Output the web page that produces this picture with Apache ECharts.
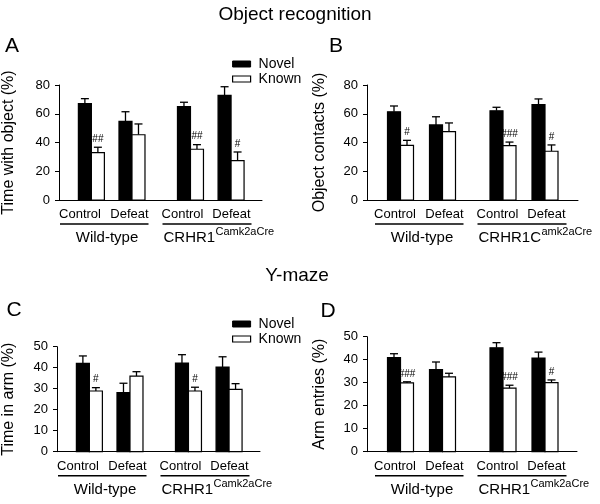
<!DOCTYPE html>
<html>
<head>
<meta charset="utf-8">
<script src="https://cdn.jsdelivr.net/npm/echarts@6/dist/echarts.min.js"></script>
<style>
html,body{margin:0;padding:0;background:#fff;}
#chart{width:600px;height:504px;}
</style>
</head>
<body>
<div id="chart"></div>
<script>
// ---- data ----
const conditions = ['Control', 'Defeat', 'Control', 'Defeat'];
const genotypeWT = 'Wild-type';
const seriesNames = ['Novel', 'Known'];

// Panel A: Time with object (%)
const aNovel = [67.0, 54.7, 64.9, 72.8];
const aNovelErr = [3.5, 6.7, 3.1, 6.0];
const aKnown = [32.9, 45.4, 35.3, 27.4];
const aKnownErr = [3.8, 7.5, 3.2, 6.0];
const aMarks = ['##', '', '##', '#'];

// Panel B: Object contacts (%)
const bNovel = [61.4, 52.2, 62.1, 66.3];
const bNovelErr = [4.0, 5.7, 2.4, 4.0];
const bKnown = [38.0, 47.5, 37.8, 33.9];
const bKnownErr = [3.5, 6.1, 2.5, 4.4];
const bMarks = ['#', '', '###', '#'];

// Panel C: Time in arm (%)
const cNovel = [42.1, 28.1, 42.2, 40.3];
const cNovelErr = [3.5, 4.5, 4.0, 4.9];
const cKnown = [28.9, 36.0, 28.9, 29.7];
const cKnownErr = [1.6, 2.1, 1.8, 2.7];
const cMarks = ['#', '', '#', ''];

// Panel D: Arm entries (%)
const dNovel = [40.9, 35.7, 45.2, 40.7];
const dNovelErr = [1.7, 3.3, 2.2, 2.6];
const dKnown = [29.9, 32.5, 27.6, 30.0];
const dKnownErr = [0.5, 1.6, 1.3, 1.2];
const dMarks = ['###', '', '###', '#'];

const yTicksObj = [0, 20, 40, 60, 80];
const yTicksMaze = [0, 10, 20, 30, 40, 50];

// ---- layout ----
const FONT = 'Liberation Sans, Arial, Helvetica, sans-serif';
const slotPos = [33.5, 75.5, 136, 178];      // pair centres along x (px from axis start)
const labelPos = [28, 77.5, 130.5, 179.5];
const panels = [
  {letter:'A', left:52, top:85, width:210, height:115, yName:'Time with object (%)', nameGap:42,
   ticks:yTicksObj, novel:aNovel, novelErr:aNovelErr, known:aKnown, knownErr:aKnownErr, marks:aMarks,
   geno2:'CRHR1', sup:'Camk2aCre', letterX:12, letterY:46},
  {letter:'B', left:367, top:85, width:211, height:115, yName:'Object contacts (%)', nameGap:39,
   ticks:yTicksObj, novel:bNovel, novelErr:bNovelErr, known:bKnown, knownErr:bKnownErr, marks:bMarks,
   geno2:'CRHR1C', sup:'amk2aCre', letterX:336, letterY:46},
  {letter:'C', left:50, top:346.7, width:210, height:105, yName:'Time in arm (%)', nameGap:40,
   ticks:yTicksMaze, novel:cNovel, novelErr:cNovelErr, known:cKnown, knownErr:cKnownErr, marks:cMarks,
   geno2:'CRHR1', sup:'Camk2aCre', letterX:14, letterY:310},
  {letter:'D', left:367, top:336.7, width:210, height:115, yName:'Arm entries (%)', nameGap:39,
   ticks:yTicksMaze, novel:dNovel, novelErr:dNovelErr, known:dKnown, knownErr:dKnownErr, marks:dMarks,
   geno2:'CRHR1', sup:'Camk2aCre', letterX:328, letterY:311}
];

function makeRender(sign, fill, marks) {
  return function (params, api) {
    const i = params.dataIndex;
    const x = api.value(0), v = api.value(1), e = api.value(2);
    const base = api.coord([x, 0]);
    const top = api.coord([x, v]);
    const et = api.coord([x, v + e]);
    const bw = 13;
    const cx = base[0] + sign * bw / 2;
    const children = [
      {type:'line', shape:{x1:cx, y1:top[1], x2:cx, y2:et[1]}, style:{stroke:'#000', lineWidth:1.3}},
      {type:'line', shape:{x1:cx - 4, y1:et[1], x2:cx + 4, y2:et[1]}, style:{stroke:'#000', lineWidth:1.3}},
      {type:'rect', shape:{x:cx - bw / 2, y:top[1], width:bw, height:base[1] - top[1]},
       style:{fill:fill, stroke:'#000', lineWidth:1.2}}
    ];
    if (marks && marks[i]) {
      children.push({type:'text', style:{text:marks[i], x:cx, y:et[1] - 3, align:'center',
        verticalAlign:'bottom', fontSize:10, fontFamily:FONT, fill:'#000'}});
    }
    return {type:'group', children:children};
  };
}

const grid = [], xAxis = [], yAxis = [], series = [], graphic = [];
panels.forEach(function (p, k) {
  grid.push({left:p.left, top:p.top, width:p.width, height:p.height});
  xAxis.push({type:'value', gridIndex:k, min:0, max:p.width,
    axisLine:{show:true, lineStyle:{color:'#000', width:1}}, axisTick:{show:false},
    axisLabel:{show:false}, splitLine:{show:false}});
  const tk = p.ticks;
  yAxis.push({type:'value', gridIndex:k, min:tk[0], max:tk[tk.length - 1], interval:tk[1] - tk[0],
    name:p.yName, nameLocation:'middle', nameGap:p.nameGap,
    nameTextStyle:{fontSize:16, color:'#000', fontFamily:FONT},
    axisLine:{show:true, lineStyle:{color:'#000', width:1}},
    axisTick:{show:true, length:4, lineStyle:{color:'#000'}},
    axisLabel:{fontSize:13, color:'#000', fontFamily:FONT, margin:9},
    splitLine:{show:false}});
  series.push({type:'custom', name:'Novel', xAxisIndex:k, yAxisIndex:k,
    itemStyle:{color:'#000'},
    renderItem:makeRender(-1, '#000', null),
    data:p.novel.map(function (v, i) { return [slotPos[i], v, p.novelErr[i]]; })});
  series.push({type:'custom', name:'Known', xAxisIndex:k, yAxisIndex:k,
    itemStyle:{color:'#fff', borderColor:'#000', borderWidth:1},
    renderItem:makeRender(1, '#fff', p.marks),
    data:p.known.map(function (v, i) { return [slotPos[i], v, p.knownErr[i]]; })});

  const bottom = p.top + p.height;
  // condition labels
  conditions.forEach(function (c, i) {
    graphic.push({type:'text', left:null, x:p.left + labelPos[i], y:bottom + 14.5,
      style:{text:c, fontSize:13, fontFamily:FONT, fill:'#000', align:'center', verticalAlign:'middle'}});
  });
  // group underlines
  graphic.push({type:'line', shape:{x1:p.left + 8, y1:bottom + 24, x2:p.left + 96.5, y2:bottom + 24},
    style:{stroke:'#000', lineWidth:1.5}});
  graphic.push({type:'line', shape:{x1:p.left + 110.5, y1:bottom + 24, x2:p.left + 199.5, y2:bottom + 24},
    style:{stroke:'#000', lineWidth:1.5}});
  // genotype labels
  graphic.push({type:'text', x:p.left + 55, y:bottom + 38,
    style:{text:genotypeWT, fontSize:15, fontFamily:FONT, fill:'#000', align:'center', verticalAlign:'middle'}});
  graphic.push({type:'text', x:p.left + 111.5, y:bottom + 38,
    style:{text:p.geno2, fontSize:15, fontFamily:FONT, fill:'#000', align:'left', verticalAlign:'middle'}});
  const g2w = p.geno2 === 'CRHR1' ? 52 : 63;
  graphic.push({type:'text', x:p.left + 111.5 + g2w, y:bottom + 32,
    style:{text:p.sup, fontSize:11, fontFamily:FONT, fill:'#000', align:'left', verticalAlign:'middle'}});
  // panel letters
  graphic.push({type:'text', x:p.letterX, y:p.letterY,
    style:{text:p.letter, fontSize:21, fontFamily:FONT, fill:'#000', align:'center', verticalAlign:'middle'}});
});

graphic.push({type:'text', x:295, y:15,
  style:{text:'Object recognition', fontSize:19, fontFamily:FONT, fill:'#000', align:'center', verticalAlign:'middle'}});
graphic.push({type:'text', x:297, y:276,
  style:{text:'Y-maze', fontSize:19, fontFamily:FONT, fill:'#000', align:'center', verticalAlign:'middle'}});

const legendData = [
  {name:seriesNames[0], icon:'rect', itemStyle:{color:'#000', borderColor:'#000', borderWidth:1}},
  {name:seriesNames[1], icon:'rect', itemStyle:{color:'#fff', borderColor:'#000', borderWidth:1.2}}
];
function makeLegend(top) {
  return {orient:'vertical', left:227, top:top, itemWidth:18, itemHeight:6, itemGap:1,
    selectedMode:false, data:legendData,
    textStyle:{fontSize:14, fontFamily:FONT, color:'#000', padding:[0, 0, 0, 3]}};
}

const chart = echarts.init(document.getElementById('chart'), null, {renderer:'canvas'});
chart.setOption({
  backgroundColor:'#fff',
  animation:false,
  textStyle:{fontFamily:FONT},
  legend:[makeLegend(52), makeLegend(312)],
  grid:grid, xAxis:xAxis, yAxis:yAxis, series:series, graphic:graphic
});
</script>
</body>
</html>
